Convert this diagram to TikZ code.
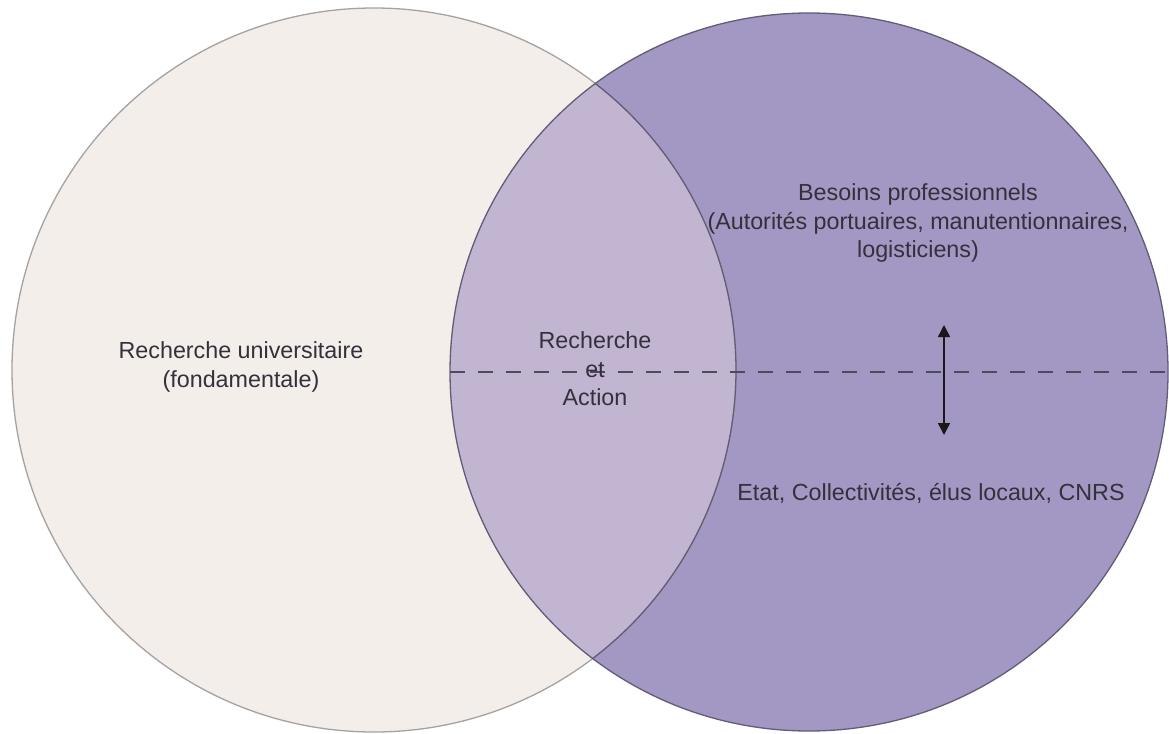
\documentclass[tikz,border=0pt]{standalone}
\usepackage{fontspec}
\setmainfont{Liberation Sans}
\usetikzlibrary{arrows.meta}
\definecolor{leftfill}{RGB}{244,238,234}
\definecolor{rightfill}{RGB}{163,152,195}
\definecolor{midfill}{RGB}{193,181,210}
\definecolor{leftline}{RGB}{165,162,162}
\definecolor{rightline}{RGB}{98,92,118}
\definecolor{txt}{RGB}{52,48,60}
\begin{document}
\begin{tikzpicture}[x=1pt,y=-1pt,
  lbl/.style={font=\fontsize{23.3}{28.5}\selectfont, text=txt, align=center, inner sep=0pt},
  outl/.style={line width=1.3pt},
  divider/.style={dash pattern=on 15pt off 13pt, line width=1.5pt, draw=rightline!80!black},
  dblarrow/.style={{Triangle[width=12pt,length=12pt]}-{Triangle[width=12pt,length=12pt]}, line width=1.6pt, draw=black!90}]
\useasboundingbox (0,0) rectangle (1169,733);
\fill[white] (0,0) rectangle (1169,733);
\coordinate (cl) at (374,370);
\coordinate (cr) at (809,372);
\fill[leftfill] (cl) circle[radius=362pt];
\fill[rightfill] (cr) circle[radius=359pt];
\begin{scope}
  \clip (cl) circle[radius=362pt];
  \fill[midfill] (cr) circle[radius=359pt];
\end{scope}
\draw[outl, leftline] (cl) circle[radius=362pt];
\begin{scope}
  \clip (cr) circle[radius=359pt];
  \draw[outl, rightline] (cl) circle[radius=362pt];
\end{scope}
\draw[outl, rightline] (cr) circle[radius=359pt];
% divider
\coordinate (dl) at (450,372);
\coordinate (dr) at (1169,372);
\draw[divider] (dl) -- (dr);
% arrow
\coordinate (au) at (944,325);
\coordinate (ad) at (944,435);
\draw[dblarrow] (au) -- (ad);
% labels
\node[lbl] (ru) at (241,367) {Recherche universitaire\\(fondamentale)};
\node[lbl] (ra) at (595,369) {Recherche\\et\\Action};
\node[lbl] (bp) at (918,223) {Besoins professionnels\\(Autorités portuaires, manutentionnaires,\\logisticiens)};
\node[lbl] (ec) at (931,493) {Etat, Collectivités, élus locaux, CNRS};
\end{tikzpicture}
\end{document}
